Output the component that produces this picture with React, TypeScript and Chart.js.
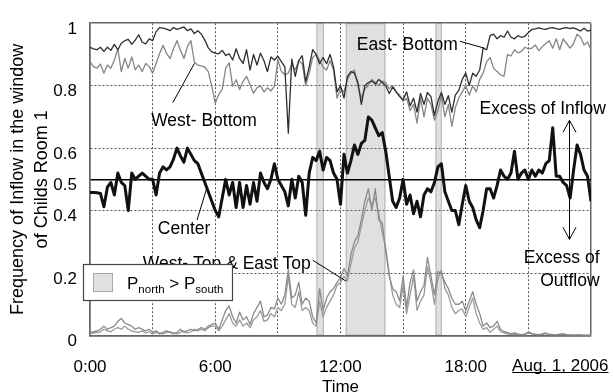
import React, { useEffect, useRef } from "react";
import { Chart, registerables } from "chart.js";

Chart.register(...registerables);

const FONT = "'Liberation Sans', Arial, Helvetica, sans-serif";

// sampling interval of the measured series, in hours (10 minutes)
const STEP_H = 1 / 6;

// Frequency of inflow, sampled every 10 min from 0:00 to 24:00 (145 values)
const eastBottom = [
  0.923, 0.918, 0.915, 0.923, 0.910, 0.923, 0.913, 0.932, 0.915, 0.936,
  0.944, 0.948, 0.932, 0.946, 0.963, 0.939, 0.934, 0.950, 0.944, 0.973,
  0.986, 0.984, 0.981, 0.976, 0.986, 0.980, 0.984, 0.988, 0.976, 0.982,
  0.967, 0.976, 0.965, 0.946, 0.921, 0.908, 0.904, 0.902, 0.913, 0.897,
  0.902, 0.882, 0.918, 0.887, 0.871, 0.915, 0.850, 0.900, 0.866, 0.904,
  0.880, 0.845, 0.892, 0.882, 0.894, 0.877, 0.860, 0.648, 0.885, 0.830,
  0.880, 0.896, 0.813, 0.860, 0.915, 0.900, 0.870, 0.890, 0.870, 0.900,
  0.860, 0.780, 0.800, 0.760, 0.830, 0.845, 0.840, 0.810, 0.740, 0.800,
  0.810, 0.815, 0.805, 0.820, 0.810, 0.800, 0.775, 0.795, 0.780, 0.765,
  0.755, 0.780, 0.735, 0.760, 0.715, 0.775, 0.740, 0.778, 0.765, 0.705,
  0.750, 0.778, 0.740, 0.768, 0.715, 0.770, 0.785, 0.820, 0.840, 0.800,
  0.840, 0.830, 0.850, 0.920, 0.915, 0.960, 0.965, 0.950, 0.960, 0.955,
  0.975, 0.955, 0.950, 0.960, 0.955, 0.958, 0.970, 0.980, 0.982, 0.985,
  0.982, 0.980, 0.984, 0.986, 0.983, 0.980, 0.984, 0.986, 0.983, 0.985,
  0.980, 0.975, 0.984, 0.975, 0.978,
];

const westBottom = [
  0.877, 0.861, 0.856, 0.869, 0.840, 0.866, 0.856, 0.882, 0.918, 0.845,
  0.887, 0.856, 0.892, 0.851, 0.866, 0.845, 0.871, 0.861, 0.840, 0.871,
  0.903, 0.929, 0.903, 0.887, 0.918, 0.944, 0.913, 0.887, 0.925, 0.944,
  0.875, 0.866, 0.863, 0.859, 0.845, 0.798, 0.744, 0.772, 0.788, 0.856,
  0.873, 0.798, 0.819, 0.788, 0.814, 0.830, 0.803, 0.776, 0.793, 0.800,
  0.780, 0.793, 0.783, 0.798, 0.882, 0.845, 0.835, 0.840, 0.870, 0.850,
  0.880, 0.870, 0.800, 0.840, 0.890, 0.900, 0.880, 0.860, 0.850, 0.880,
  0.850, 0.760, 0.790, 0.780, 0.820, 0.840, 0.850, 0.800, 0.760, 0.790,
  0.800, 0.820, 0.810, 0.800, 0.815, 0.810, 0.790, 0.800, 0.780, 0.770,
  0.750, 0.760, 0.720, 0.740, 0.680, 0.760, 0.700, 0.760, 0.740, 0.690,
  0.720, 0.770, 0.700, 0.740, 0.670, 0.730, 0.760, 0.780, 0.800, 0.770,
  0.800, 0.780, 0.820, 0.840, 0.877, 0.890, 0.856, 0.845, 0.835, 0.830,
  0.900, 0.895, 0.915, 0.905, 0.910, 0.923, 0.918, 0.920, 0.930, 0.912,
  0.925, 0.935, 0.944, 0.920, 0.950, 0.915, 0.950, 0.935, 0.920, 0.935,
  0.965, 0.955, 0.930, 0.940, 0.915,
];

const center = [
  0.458, 0.458, 0.457, 0.455, 0.412, 0.475, 0.490, 0.450, 0.520, 0.490,
  0.480, 0.400, 0.520, 0.500, 0.510, 0.520, 0.510, 0.500, 0.500, 0.450,
  0.520, 0.540, 0.530, 0.540, 0.565, 0.600, 0.575, 0.555, 0.600, 0.580,
  0.560, 0.550, 0.520, 0.490, 0.460, 0.430, 0.400, 0.380, 0.440, 0.500,
  0.450, 0.490, 0.410, 0.490, 0.410, 0.480, 0.420, 0.490, 0.430, 0.520,
  0.490, 0.470, 0.500, 0.550, 0.500, 0.480, 0.460, 0.415, 0.500, 0.440,
  0.510, 0.490, 0.385, 0.520, 0.570, 0.560, 0.590, 0.530, 0.570, 0.560,
  0.520, 0.500, 0.420, 0.580, 0.520, 0.560, 0.610, 0.580, 0.615, 0.625,
  0.700, 0.690, 0.665, 0.640, 0.650, 0.590, 0.510, 0.430, 0.410, 0.440,
  0.500, 0.420, 0.450, 0.390, 0.430, 0.380, 0.450, 0.470, 0.460, 0.490,
  0.540, 0.550, 0.460, 0.430, 0.400, 0.400, 0.355, 0.420, 0.480, 0.430,
  0.410, 0.370, 0.345, 0.400, 0.470, 0.470, 0.440, 0.480, 0.530, 0.510,
  0.500, 0.520, 0.590, 0.500, 0.520, 0.530, 0.500, 0.530, 0.510, 0.530,
  0.520, 0.550, 0.560, 0.665, 0.510, 0.510, 0.490, 0.480, 0.440, 0.530,
  0.610, 0.580, 0.530, 0.510, 0.430,
];

const westTop = [
  0.010, 0.012, 0.015, 0.020, 0.030, 0.020, 0.025, 0.030, 0.045, 0.055,
  0.040, 0.035, 0.030, 0.020, 0.025, 0.020, 0.015, 0.020, 0.010, 0.015,
  0.005, 0.010, 0.015, 0.010, 0.005, 0.010, 0.020, 0.010, 0.015, 0.020,
  0.015, 0.020, 0.025, 0.020, 0.030, 0.035, 0.040, 0.020, 0.050, 0.080,
  0.095, 0.060, 0.040, 0.075, 0.050, 0.060, 0.035, 0.070, 0.090, 0.110,
  0.060, 0.065, 0.090, 0.085, 0.120, 0.100, 0.130, 0.210, 0.120, 0.130,
  0.170, 0.100, 0.120, 0.110, 0.060, 0.040, 0.150, 0.080, 0.120, 0.140,
  0.150, 0.170, 0.185, 0.215, 0.190, 0.260, 0.300, 0.320, 0.370, 0.430,
  0.470, 0.400, 0.470, 0.370, 0.360, 0.270, 0.190, 0.150, 0.140, 0.110,
  0.190, 0.090, 0.170, 0.210, 0.110, 0.140, 0.160, 0.250, 0.190, 0.130,
  0.205, 0.200, 0.170, 0.150, 0.120, 0.100, 0.100, 0.110, 0.080, 0.110,
  0.140, 0.100, 0.070, 0.030, 0.040, 0.025, 0.030, 0.045, 0.020, 0.012,
  0.010, 0.005, 0.008, 0.005, 0.003, 0.005, 0.012, 0.006, 0.004, 0.003,
  0.005, 0.008, 0.004, 0.003, 0.002, 0.004, 0.006, 0.003, 0.002, 0.001,
  0.002, 0.002, 0.001, 0.001, 0.001,
];

const eastTop = [
  0.005, 0.008, 0.010, 0.012, 0.020, 0.015, 0.012, 0.020, 0.025, 0.020,
  0.030, 0.020, 0.015, 0.012, 0.010, 0.015, 0.008, 0.012, 0.005, 0.010,
  0.008, 0.005, 0.010, 0.012, 0.008, 0.005, 0.010, 0.015, 0.008, 0.012,
  0.020, 0.015, 0.020, 0.015, 0.025, 0.030, 0.030, 0.015, 0.030, 0.050,
  0.070, 0.040, 0.030, 0.050, 0.030, 0.040, 0.025, 0.050, 0.060, 0.080,
  0.045, 0.050, 0.070, 0.060, 0.090, 0.080, 0.100, 0.190, 0.100, 0.090,
  0.140, 0.080, 0.090, 0.080, 0.040, 0.030, 0.110, 0.060, 0.090, 0.110,
  0.130, 0.160, 0.170, 0.190, 0.175, 0.230, 0.280, 0.300, 0.350, 0.400,
  0.440, 0.420, 0.440, 0.390, 0.330, 0.280, 0.200, 0.130, 0.100, 0.090,
  0.160, 0.070, 0.130, 0.190, 0.080, 0.110, 0.130, 0.220, 0.170, 0.100,
  0.180, 0.210, 0.150, 0.130, 0.090, 0.070, 0.080, 0.085, 0.060, 0.090,
  0.120, 0.070, 0.040, 0.020, 0.025, 0.010, 0.020, 0.030, 0.012, 0.008,
  0.005, 0.003, 0.004, 0.002, 0.002, 0.003, 0.008, 0.005, 0.003, 0.002,
  0.003, 0.006, 0.003, 0.002, 0.001, 0.002, 0.004, 0.002, 0.001, 0.001,
  0.001, 0.001, 0.000, 0.000, 0.000,
];

// periods (hours) when P_north > P_south
const northBands: [number, number][] = [
  [10.85, 11.2],
  [12.25, 14.15],
  [16.55, 16.85],
];

const yTicks = [0, 0.2, 0.4, 0.5, 0.6, 0.8, 1];
const xTicks = [0, 3, 6, 9, 12, 15, 18, 21, 24];
const xTickLabels: Record<number, string> = { 0: "0:00", 6: "6:00", 12: "12:00", 18: "18:00" };
const yTitle = ["Frequency of Inflow in the window", "of Childs Room 1"];
const xTitle = "Time";
const dateLabel = "Aug. 1, 2006";

// annotation texts (in data coordinates: hour, value)
const noteTexts = [
  { text: "West- Bottom", h: 2.93, v: 0.671, align: "left" },
  { text: "East- Bottom", h: 12.78, v: 0.913, align: "left" },
  { text: "Center", h: 3.25, v: 0.324, align: "left" },
  { text: "West- Top & East Top", h: 2.53, v: 0.213, align: "left" },
  { text: "Excess of Inflow", h: 18.66, v: 0.71, align: "left" },
  { text: "Excess of", h: 24.41, v: 0.233, align: "right" },
  { text: "Outflow", h: 24.41, v: 0.16, align: "right" },
];
const leaderLines: [number, number][][] = [
  [[3.97, 0.746], [5.0, 0.871]],
  [[17.72, 0.942], [18.9, 0.92]],
  [[5.13, 0.37], [5.58, 0.469]],
  [[10.67, 0.241], [12.27, 0.174]],
];
const flowArrow = { h: 22.97, top: 0.689, bottom: 0.308 };
const datePos = { h: 20.22, v: -0.114 };

const toPoints = (arr: number[]) => arr.map((v, i) => ({ x: i * STEP_H, y: v }));

const overlayPlugin = {
  id: "overlay",
  beforeDraw(chart: any) {
    const { ctx, chartArea } = chart;
    const xs = chart.scales.x;
    ctx.save();
    for (const [a, b] of northBands) {
      const x1 = xs.getPixelForValue(a);
      const x2 = xs.getPixelForValue(b);
      ctx.fillStyle = "#e0e0e0";
      ctx.fillRect(x1, chartArea.top, x2 - x1, chartArea.bottom - chartArea.top);
      ctx.strokeStyle = "#b0b0b0";
      ctx.lineWidth = 1;
      ctx.strokeRect(x1 + 0.5, chartArea.top + 0.5, x2 - x1 - 1, chartArea.bottom - chartArea.top - 1);
    }
    ctx.restore();
  },
  afterDraw(chart: any) {
    const { ctx } = chart;
    const xs = chart.scales.x;
    const ys = chart.scales.y;
    const px = (h: number) => xs.getPixelForValue(h);
    const py = (v: number) => ys.getPixelForValue(v);
    ctx.save();
    // leader lines
    ctx.strokeStyle = "#000";
    ctx.lineWidth = 1;
    for (const seg of leaderLines) {
      ctx.beginPath();
      ctx.moveTo(px(seg[0][0]), py(seg[0][1]));
      ctx.lineTo(px(seg[1][0]), py(seg[1][1]));
      ctx.stroke();
    }
    // arrow
    const ax = Math.round(px(flowArrow.h)) + 0.5;
    const at = py(flowArrow.top);
    const ab = py(flowArrow.bottom);
    ctx.beginPath();
    ctx.moveTo(ax, at);
    ctx.lineTo(ax, ab);
    ctx.moveTo(ax - 6.5, at + 12);
    ctx.lineTo(ax, at);
    ctx.lineTo(ax + 6.5, at + 12);
    ctx.moveTo(ax - 6.5, ab - 12);
    ctx.lineTo(ax, ab);
    ctx.lineTo(ax + 6.5, ab - 12);
    ctx.stroke();
    // texts
    ctx.fillStyle = "#000";
    ctx.font = `17.5px ${FONT}`;
    ctx.textBaseline = "alphabetic";
    for (const n of noteTexts) {
      ctx.textAlign = n.align as CanvasTextAlign;
      ctx.fillText(n.text, px(n.h), py(n.v));
    }
    // date label, underlined
    ctx.textAlign = "left";
    ctx.font = `17px ${FONT}`;
    const dx = px(datePos.h);
    const dy = py(datePos.v);
    ctx.fillText(dateLabel, dx, dy);
    const dw = ctx.measureText(dateLabel).width;
    ctx.beginPath();
    ctx.moveTo(dx, Math.round(dy) + 1.5);
    ctx.lineTo(dx + dw, Math.round(dy) + 1.5);
    ctx.stroke();
    // legend box
    const lb = { left: 83.5, top: 264.5, width: 149, height: 36 };
    ctx.fillStyle = "#fff";
    ctx.fillRect(lb.left, lb.top, lb.width, lb.height);
    ctx.strokeStyle = "#444";
    ctx.lineWidth = 1.2;
    ctx.strokeRect(lb.left, lb.top, lb.width, lb.height);
    ctx.fillStyle = "#e0e0e0";
    ctx.fillRect(lb.left + 10, lb.top + 9, 19, 18);
    ctx.strokeStyle = "#a8a8a8";
    ctx.lineWidth = 1;
    ctx.strokeRect(lb.left + 10, lb.top + 9, 19, 18);
    ctx.fillStyle = "#000";
    let tx = lb.left + 43.5;
    const base = lb.top + 24.5;
    const parts: [string, boolean][] = [["P", false], ["north", true], [" > ", false], ["P", false], ["south", true]];
    for (const [t, sub] of parts) {
      ctx.font = sub ? `11.5px ${FONT}` : `17px ${FONT}`;
      ctx.fillText(t, tx, sub ? base + 3.5 : base);
      tx += ctx.measureText(t).width;
    }
    ctx.restore();
  },
};

const isDashedX = (c: any) => c.tick && c.tick.value > 0 && c.tick.value < 24;
const isDashedY = (c: any) => c.tick && c.tick.value > 0 && c.tick.value < 1 && c.tick.value !== 0.5;

export default function App() {
  const ref = useRef<HTMLCanvasElement | null>(null);
  useEffect(() => {
    if (!ref.current) return;
    Chart.defaults.font.family = FONT;
    const line = (data: number[], color: string, width: number) => ({
      data: toPoints(data),
      borderColor: color,
      backgroundColor: color,
      borderWidth: width,
      pointRadius: 0,
      tension: 0,
      fill: false,
      borderJoinStyle: "round" as const,
    });
    const chart = new Chart(ref.current, {
      type: "line",
      data: {
        datasets: [
          { label: "Center", ...line(center, "#111", 3) },
          { label: "East- Bottom", ...line(eastBottom, "#2e2e2e", 1.3) },
          { label: "West- Bottom", ...line(westBottom, "#858585", 1.3) },
          { label: "West- Top", ...line(westTop, "#8a8a8a", 1.3) },
          { label: "East Top", ...line(eastTop, "#9a9a9a", 1.3) },
        ],
      },
      options: {
        animation: false,
        responsive: false,
        devicePixelRatio: 1,
        layout: { padding: { top: 15, right: 23, left: 0, bottom: 0 } },
        plugins: { legend: { display: false }, tooltip: { enabled: false } },
        scales: {
          x: {
            type: "linear",
            min: 0,
            max: 24,
            afterBuildTicks: (s: any) => {
              s.ticks = xTicks.map((v) => ({ value: v }));
            },
            afterFit: (s: any) => {
              s.height = 56.5;
            },
            ticks: {
              autoSkip: false,
              maxRotation: 0,
              padding: 22,
              color: "#000",
              font: { size: 17 },
              callback: (v: any) => xTickLabels[v as number] ?? "",
            },
            grid: {
              drawTicks: false,
              color: (c: any) => (isDashedX(c) ? "#555" : "#666"),
              lineWidth: (c: any) => (isDashedX(c) ? 1 : 1.5),
            },
            border: {
              color: "#666",
              width: 1.5,
              dash: (c: any) => (isDashedX(c) ? [2, 2] : []),
            },
            title: {
              display: true,
              text: xTitle,
              color: "#000",
              font: { size: 17, lineHeight: 0.6 },
              padding: 0,
            },
          },
          y: {
            type: "linear",
            min: 0,
            max: 1,
            afterBuildTicks: (s: any) => {
              s.ticks = yTicks.map((v) => ({ value: v }));
            },
            afterFit: (s: any) => {
              s.width = 90;
            },
            ticks: {
              autoSkip: false,
              padding: 13,
              labelOffset: 6,
              color: "#000",
              font: { size: 17 },
              callback: (v: any) => String(v),
            },
            grid: {
              drawTicks: false,
              color: (c: any) => (c.tick && c.tick.value === 0.5 ? "#000" : isDashedY(c) ? "#555" : "#666"),
              lineWidth: (c: any) => (c.tick && c.tick.value === 0.5 ? 1.6 : isDashedY(c) ? 1 : 1.5),
            },
            border: {
              color: "#666",
              width: 1.5,
              dash: (c: any) => (isDashedY(c) ? [2, 2] : []),
            },
            title: {
              display: true,
              text: yTitle,
              color: "#000",
              font: { size: 18, lineHeight: 1.333 },
              padding: { top: 6, bottom: 0 },
            },
          },
        },
      },
      plugins: [overlayPlugin],
    });
    return () => chart.destroy();
  }, []);
  return (
    <div style={{ position: "fixed", left: 0, top: 0, width: 614, height: 392, background: "#fff" }}>
      <canvas ref={ref} width={614} height={392} style={{ display: "block" }} />
    </div>
  );
}
